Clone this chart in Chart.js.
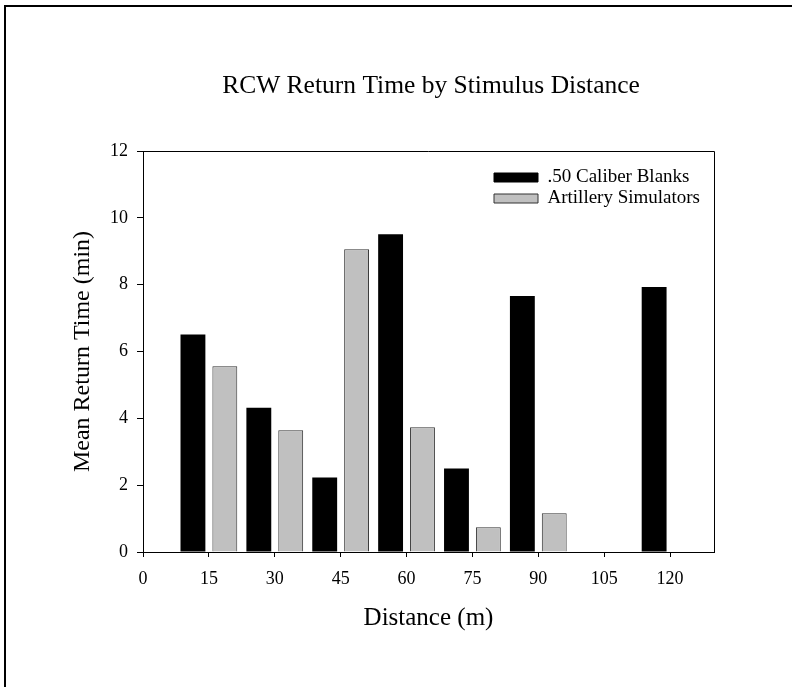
<!DOCTYPE html>
<html>
<head>
<meta charset="utf-8">
<script src="https://cdn.jsdelivr.net/npm/chart.js@4/dist/chart.umd.min.js"></script>
<style>
html,body{margin:0;padding:0;background:#fff;}
canvas{display:block;}
</style>
</head>
<body>
<canvas id="c" width="792" height="687"></canvas>
<script>
const distances = [15, 30, 45, 60, 75, 90, 105, 120];
const caliberBlanks = [6.51, 4.32, 2.23, 9.51, 2.50, 7.66, null, 7.93];
const artillerySimulators = [5.56, 3.64, 9.06, 3.73, 0.74, 1.16, null, null];
const xTickLabels = [0, 15, 30, 45, 60, 75, 90, 105, 120];
const yTickLabels = [0, 2, 4, 6, 8, 10, 12];
const seriesNames = ['.50 Caliber Blanks', 'Artillery Simulators'];

const FONT = "'Liberation Serif', 'Times New Roman', serif";

const toPoints = vals => distances.map((d, i) => ({x: d, y: vals[i]}));

const framePlugin = {
  id: 'frame',
  afterDraw(chart) {
    const ctx = chart.ctx;
    const a = chart.chartArea;
    ctx.save();
    ctx.strokeStyle = '#000';
    ctx.lineWidth = 1;
    ctx.beginPath();
    ctx.moveTo(a.left, Math.round(a.top) + 0.5);
    ctx.lineTo(Math.round(a.right) + 0.5, Math.round(a.top) + 0.5);
    ctx.lineTo(Math.round(a.right) + 0.5, a.bottom);
    ctx.stroke();
    ctx.lineWidth = 2;
    ctx.beginPath();
    ctx.moveTo(5, 687);
    ctx.lineTo(5, 6);
    ctx.lineTo(792, 6);
    ctx.stroke();
    ctx.restore();
  }
};

const legendPlace = {
  id: 'legendPlace',
  afterLayout(chart) {
    const lg = chart.legend;
    if (!lg) return;
    const w = lg.width;
    lg.left = 492;
    lg.right = lg.left + w;
    lg.top = chart.chartArea.top + 15;
  }
};

new Chart(document.getElementById('c'), {
  type: 'bar',
  data: {
    datasets: [
      {
        label: seriesNames[0],
        data: toPoints(caliberBlanks),
        backgroundColor: '#000000',
        borderColor: '#000000',
        borderWidth: 0
      },
      {
        label: seriesNames[1],
        data: toPoints(artillerySimulators),
        backgroundColor: '#c0c0c0',
        borderColor: '#333333',
        borderWidth: 1
      }
    ]
  },
  options: {
    responsive: false,
    devicePixelRatio: 1,
    animation: false,
    events: [],
    categoryPercentage: 0.968,
    barPercentage: 0.78,
    layout: {padding: {left: 70, right: 0, top: 0, bottom: 0}},
    plugins: {
      title: {
        display: true,
        text: 'RCW Return Time by Stimulus Distance',
        color: '#000',
        font: {family: FONT, size: 25.5, weight: 'normal'},
        padding: {top: 70.5, bottom: 49.9}
      },
      legend: {
        display: true,
        position: 'chartArea',
        align: 'start',
        labels: {
          color: '#000',
          font: {family: FONT, size: 19},
          boxWidth: 44,
          boxHeight: 9,
          padding: 2,
          generateLabels(chart) {
            return chart.data.datasets.map((ds, i) => ({
              text: ds.label,
              fillStyle: ds.backgroundColor,
              strokeStyle: ds.borderColor,
              lineWidth: 1,
              datasetIndex: i,
              hidden: false
            }));
          }
        }
      },
      tooltip: {enabled: false}
    },
    scales: {
      x: {
        type: 'linear',
        position: 'bottom',
        min: 0,
        max: 130,
        offset: false,
        afterBuildTicks(scale) { scale.ticks = xTickLabels.map(v => ({value: v})); },
        afterFit(scale) { scale.height = 135; },
        grid: {display: true, drawOnChartArea: false, drawTicks: true, tickLength: 5, color: '#000', offset: false},
        border: {display: true, color: '#000', width: 1},
        ticks: {color: '#000', font: {family: FONT, size: 18}, padding: 11, maxRotation: 0, autoSkip: false},
        title: {display: true, text: 'Distance (m)', color: '#000', font: {family: FONT, size: 25}, padding: {top: 0, bottom: 54}}
      },
      y: {
        type: 'linear',
        position: 'left',
        min: 0,
        max: 12,
        afterBuildTicks(scale) { scale.ticks = yTickLabels.map(v => ({value: v})); },
        afterFit(scale) { scale.width = 73; },
        grid: {display: true, drawOnChartArea: false, drawTicks: true, tickLength: 6, color: '#000'},
        border: {display: true, color: '#000', width: 1},
        ticks: {color: '#000', font: {family: FONT, size: 18}, padding: 9},
        title: {display: true, text: 'Mean Return Time (min)', color: '#000', font: {family: FONT, size: 24}, padding: {top: -1.4, bottom: 0}}
      },
      yRight: {
        type: 'linear',
        position: 'right',
        display: true,
        afterFit(scale) { scale.width = 78; },
        grid: {display: false},
        border: {display: false},
        ticks: {display: false}
      }
    }
  },
  plugins: [framePlugin, legendPlace]
});
</script>
</body>
</html>
